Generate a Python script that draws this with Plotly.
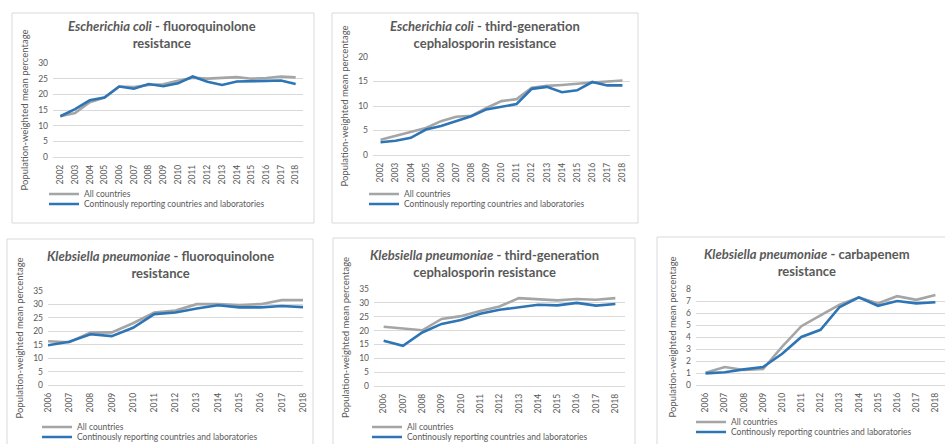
import plotly.graph_objects as go

# ---- data: population-weighted mean resistance percentages ----
YEARS_EC = [2002, 2003, 2004, 2005, 2006, 2007, 2008, 2009, 2010,
            2011, 2012, 2013, 2014, 2015, 2016, 2017, 2018]
YEARS_KP = [2006, 2007, 2008, 2009, 2010, 2011, 2012,
            2013, 2014, 2015, 2016, 2017, 2018]

ec_fq_all = [13.0, 14.0, 17.5, 19.0, 22.5, 22.3, 23.0, 23.2, 24.3,
             25.3, 25.0, 25.2, 25.5, 25.0, 25.2, 25.7, 25.4]
ec_fq_cont = [13.0, 15.3, 18.1, 19.0, 22.5, 21.8, 23.3, 22.6, 23.5,
              25.7, 24.0, 23.0, 24.1, 24.1, 24.3, 24.4, 23.3]

ec_3gc_all = [3.1, 3.9, 4.7, 5.5, 6.9, 7.8, 8.0, 9.6, 11.0,
              11.4, 13.7, 14.1, 14.3, 14.6, 14.8, 15.0, 15.2]
ec_3gc_cont = [2.6, 2.9, 3.5, 5.2, 5.9, 6.9, 7.9, 9.3, 9.8,
               10.4, 13.5, 13.9, 12.8, 13.2, 14.9, 14.2, 14.2]

kp_fq_all = [16.3, 15.9, 19.5, 19.6, 23.0, 27.0, 27.7,
             30.1, 30.1, 29.8, 30.1, 31.6, 31.6]
kp_fq_cont = [14.8, 16.1, 18.9, 18.2, 21.3, 26.4, 27.0,
              28.5, 29.7, 28.9, 28.9, 29.4, 29.0]

kp_3gc_all = [21.4, 20.7, 20.1, 24.2, 25.2, 27.1, 28.7,
              31.7, 31.4, 30.9, 31.4, 31.1, 31.7]
kp_3gc_cont = [16.3, 14.5, 19.3, 22.4, 23.8, 26.1, 27.5,
               28.5, 29.3, 29.1, 30.0, 29.0, 29.6]

kp_car_all = [1.03, 1.5, 1.25, 1.33, 3.2, 4.9, 5.8,
              6.7, 7.3, 6.8, 7.4, 7.1, 7.5]
kp_car_cont = [0.97, 1.06, 1.3, 1.5, 2.6, 4.0, 4.6,
               6.5, 7.3, 6.6, 7.0, 6.8, 6.9]

SERIES_NAMES = ["All countries", "Continously reporting countries and laboratories"]
Y_TITLE = "Population-weighted mean percentage"

TITLES = [
    "<b><i>Escherichia coli</i> - fluoroquinolone<br>resistance</b>",
    "<b><i>Escherichia coli</i> - third-generation<br>cephalosporin resistance</b>",
    "<b><i>Klebsiella pneumoniae</i> - fluoroquinolone<br>resistance</b>",
    "<b><i>Klebsiella pneumoniae</i> - third-generation<br>cephalosporin resistance</b>",
    "<b><i>Klebsiella pneumoniae</i> - carbapenem<br>resistance</b>",
]

# ---- layout (pixel geometry of each chart box) ----
W, H = 945, 444
FONT = "Lato, sans-serif"
TXT = "#595959"
GRID = "#d9d9d9"
GREY = "#a5a5a5"
BLUE = "#2e75b6"

panels = [
    dict(years=YEARS_EC, all=ec_fq_all, cont=ec_fq_cont, ymax=30, dy=5,
         box=(12, 13, 314, 223), plot=(53, 63, 303, 157),
         xr=(2001.5, 2018.5), title_xy=(162, 34), leg=(49, 194)),
    dict(years=YEARS_EC, all=ec_3gc_all, cont=ec_3gc_cont, ymax=20, dy=5,
         box=(332, 13, 638, 223), plot=(373, 57, 630, 155),
         xr=(2001.5, 2018.5), title_xy=(485, 34), leg=(369, 194)),
    dict(years=YEARS_KP, all=kp_fq_all, cont=kp_fq_cont, ymax=35, dy=5,
         box=(7, 239, 313, 470), plot=(48, 291, 303, 385),
         xr=(2006, 2018), title_xy=(160, 264), leg=(42, 427)),
    dict(years=YEARS_KP, all=kp_3gc_all, cont=kp_3gc_cont, ymax=35, dy=5,
         box=(333, 238, 635, 470), plot=(374, 289, 625, 386),
         xr=(2005.5, 2018.5), title_xy=(484, 263), leg=(372, 427)),
    dict(years=YEARS_KP, all=kp_car_all, cont=kp_car_cont, ymax=8, dy=1,
         box=(657, 237, 960, 470), plot=(696, 289, 945, 385),
         xr=(2005.5, 2018.5), title_xy=(807, 262), leg=(696, 422)),
]


def px(x):
    return x / W


def py(y):
    return 1 - y / H


fig = go.Figure()
layout = dict(
    width=W, height=H,
    margin=dict(l=0, r=0, t=0, b=0, autoexpand=False),
    paper_bgcolor="white", plot_bgcolor="white",
    font=dict(family=FONT, color=TXT, size=8),
    showlegend=True,
    shapes=[], annotations=[],
)

leg_n = 0
for i, p in enumerate(panels, start=1):
    sfx = "" if i == 1 else str(i)
    for name, vals, color, row in ((SERIES_NAMES[0], p["all"], GREY, 0),
                                   (SERIES_NAMES[1], p["cont"], BLUE, 1)):
        leg_n += 1
        lname = "legend" if leg_n == 1 else f"legend{leg_n}"
        fig.add_trace(go.Scatter(
            x=p["years"], y=vals, name=name, mode="lines",
            line=dict(color=color, width=2.6),
            xaxis=f"x{sfx}", yaxis=f"y{sfx}", legend=lname,
            hoverinfo="skip",
        ))
        lx, ly = p["leg"]
        layout[lname] = dict(
            x=px(lx - 5), y=py(ly + row * 10), xanchor="left", yanchor="middle",
            bgcolor="rgba(0,0,0,0)", borderwidth=0,
            font=dict(family=FONT, size=8.5, color=TXT),
            itemclick=False, itemdoubleclick=False,
        )

    x0, y0, x1, y1 = p["plot"]
    layout[f"xaxis{sfx}"] = dict(
        domain=[px(x0), px(x1)], range=list(p["xr"]), anchor=f"y{sfx}",
        tickmode="array", tickvals=p["years"], ticktext=[str(y) for y in p["years"]],
        tickangle=-90, ticks="", showgrid=False, zeroline=False,
        showline=False, tickfont=dict(size=8.5, color=TXT),
        ticklabelstandoff=5, automargin=False, fixedrange=True,
    )
    layout[f"yaxis{sfx}"] = dict(
        domain=[py(y1), py(y0)], range=[0, p["ymax"]], dtick=p["dy"],
        anchor=f"x{sfx}", showgrid=True, gridcolor=GRID, gridwidth=1,
        zeroline=True, zerolinecolor=GRID, zerolinewidth=1,
        showline=False, ticks="", tickfont=dict(size=8.5, color=TXT),
        ticklabelstandoff=4, automargin=False, fixedrange=True,
        title=dict(text=Y_TITLE, font=dict(size=9.5, color=TXT), standoff=7),
    )

    bx0, by0, bx1, by1 = p["box"]
    layout["shapes"].append(dict(
        type="rect", xref="paper", yref="paper",
        x0=px(bx0), x1=px(bx1), y0=py(by1), y1=py(by0),
        line=dict(color=GRID, width=1), fillcolor="rgba(0,0,0,0)", layer="below",
    ))
    tx, ty = p["title_xy"]
    layout["annotations"].append(dict(
        text=TITLES[i - 1], xref="paper", yref="paper",
        x=px(tx), y=py(ty), xanchor="center", yanchor="middle",
        showarrow=False, align="center",
        font=dict(family=FONT, size=13, color=TXT),
    ))

fig.update_layout(**layout)
fig.write_html("out.html")
